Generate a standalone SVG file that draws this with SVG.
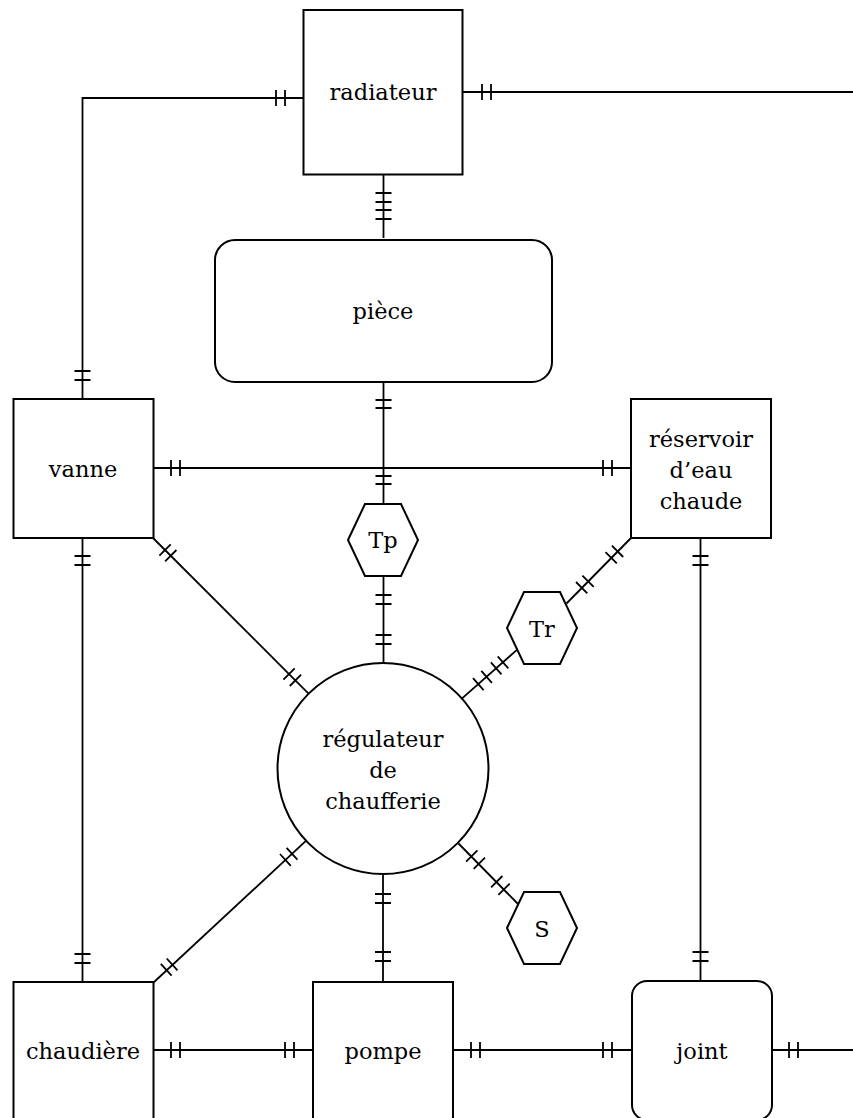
<svg xmlns="http://www.w3.org/2000/svg" width="853" height="1118" viewBox="0 0 853 1118">
<style>
.n{fill:#fff;stroke:#000;stroke-width:2}
.c{fill:none;stroke:#000;stroke-width:1.8}
.t{stroke:#000;stroke-width:1.8}
text{font-family:"DejaVu Serif","Liberation Serif",serif;font-size:22.5px;fill:#000;text-anchor:middle}
</style>
<rect width="853" height="1118" fill="#fff"/>
<g id="connectors">
<path class="c" d="M303.5,98 H82.5 V399"/>
<path class="c" d="M463,92 H853"/>
<path class="c" d="M383.5,174.5 V238"/>
<path class="c" d="M383.5,382 V504"/>
<path class="c" d="M153,468 H631"/>
<path class="c" d="M383.5,576 V663"/>
<path class="c" d="M153,538 L308.8,693.8"/>
<path class="c" d="M82.5,538 V982"/>
<path class="c" d="M631,538 L566.5,603.5"/>
<path class="c" d="M461.8,698.6 L517.2,649.7"/>
<path class="c" d="M153,983 L306.7,840.2"/>
<path class="c" d="M458.5,843.5 L518,904"/>
<path class="c" d="M383,875 V982"/>
<path class="c" d="M700.5,538 V981"/>
<path class="c" d="M153,1050 H313"/>
<path class="c" d="M453,1050 H632"/>
<path class="c" d="M772,1050 H853"/>
<g id="ticks">
<path class="t" d="M285,90 v16 M276,90 v16 M74.5,380 h16 M74.5,371 h16"/>
<path class="t" d="M482,84 v16 M491,84 v16"/>
<path class="t" d="M375.5,193 h16 M375.5,202 h16 M375.5,210 h16 M375.5,219 h16"/>
<path class="t" d="M375.5,400 h16 M375.5,408 h16 M375.5,476 h16 M375.5,484 h16"/>
<path class="t" d="M171,460 v16 M180,460 v16 M603,460 v16 M612,460 v16"/>
<path class="t" d="M375.5,595 h16 M375.5,604 h16 M375.5,635 h16 M375.5,644 h16"/>
<path class="t" d="M170.7,544.3 l-11.3,11.3 M176.4,550 l-11.3,11.3 M301.1,674.7 l-11.3,11.3 M294.7,668.3 l-11.3,11.3"/>
<path class="t" d="M74.5,556 h16 M74.5,565 h16 M74.5,954 h16 M74.5,963 h16"/>
<path class="t" d="M611.9,545.7 l11.3,11.3 M605.5,552.1 l11.3,11.3 M576.0,582.0 l11.3,11.3 M582.4,575.6 l11.3,11.3"/>
<path class="t" d="M473,678.1 l10.6,12 M481.3,670.8 l10.6,12 M490.9,662.3 l10.6,12 M497.7,656.3 l10.6,12"/>
<path class="t" d="M160.8,963.9 l10.8,11.8 M166.7,958.5 l10.8,11.8 M286.6,847.9 l10.8,11.8 M280,854 l10.8,11.8"/>
<path class="t" d="M477.4,850.3 l-11.3,11.3 M485,857.6 l-11.3,11.3 M502.4,876 l-11.3,11.3 M509.7,883.6 l-11.3,11.3"/>
<path class="t" d="M375,894 h16 M375,903 h16 M375,952 h16 M375,961 h16"/>
<path class="t" d="M692.5,556 h16 M692.5,565 h16 M692.5,952 h16 M692.5,961 h16"/>
<path class="t" d="M171,1042 v16 M180,1042 v16 M285,1042 v16 M294,1042 v16"/>
<path class="t" d="M471,1042 v16 M480,1042 v16 M603,1042 v16 M612,1042 v16"/>
<path class="t" d="M789,1042 v16 M798,1042 v16"/>
</g>
</g>
<g id="radiateur"><rect class="n" x="303.5" y="10" width="159" height="164.5"/><text x="383" y="100">radiateur</text></g>
<g id="piece"><rect class="n" x="215" y="240" width="337" height="142" rx="20"/><text x="383" y="319">pièce</text></g>
<g id="vanne"><rect class="n" x="13.5" y="399" width="140" height="139"/><text x="83" y="477">vanne</text></g>
<g id="reservoir"><rect class="n" x="631" y="399" width="140" height="139"/><text x="701" y="446.5">réservoir</text><text x="701" y="477.5">d’eau</text><text x="701" y="508.5">chaude</text></g>
<g id="Tp"><polygon class="n" points="348,540 365,504 401,504 418,540 401,576 365,576"/><text x="383" y="548">Tp</text></g>
<g id="Tr"><polygon class="n" points="507,628 524,592 560,592 577,628 560,664 524,664"/><text x="542" y="636.5">Tr</text></g>
<g id="S"><polygon class="n" points="507,928 524,892 560,892 577,928 560,964 524,964"/><text x="542" y="937">S</text></g>
<g id="regulateur"><circle class="n" cx="383" cy="768.5" r="105.5"/><text x="383" y="746.5">régulateur</text><text x="383" y="777.5">de</text><text x="383" y="809">chaufferie</text></g>
<g id="chaudiere"><rect class="n" x="13.5" y="982" width="140" height="139"/><text x="83" y="1059">chaudière</text></g>
<g id="pompe"><rect class="n" x="313" y="982" width="140" height="139"/><text x="383" y="1059">pompe</text></g>
<g id="joint"><rect class="n" x="632" y="981" width="140" height="139" rx="15"/><text x="702" y="1059">joint</text></g>
</svg>
